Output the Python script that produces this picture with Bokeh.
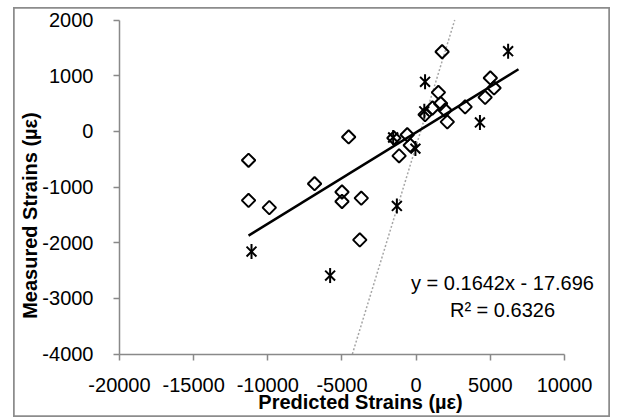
import math
from bokeh.plotting import figure
from bokeh.models import Range1d, FixedTicker, Label, ColumnDataSource, LinearAxis
from bokeh.embed import file_html
from bokeh.resources import INLINE

# ---- data ----
diamond_x = [-11300, -11300, -9900, -6850, -4550, -5000, -5000, -3700, -3800,
             -1500, -1150, -600, -400, 600, 1100, 1500, 1650, 1950, 2100,
             1750, 3300, 4650, 5000, 5250]
diamond_y = [-520, -1240, -1370, -940, -100, -1090, -1260, -1200, -1950,
             -120, -440, -60, -250, 300, 420, 700, 500, 380, 170,
             1430, 440, 610, 960, 780]

star_x = [-11100, -5800, -1300, -1550, -50, 600, 550, 4300, 6200]
star_y = [-2160, -2590, -1340, -110, -310, 890, 360, 160, 1440]

# linear trendline (as printed on the chart)
trend_slope = 0.1642
trend_intercept = -17.696
trend_r2 = 0.6326
trend_x = [-11300, 6900]
trend_y = [trend_slope * v + trend_intercept for v in trend_x]

# dotted reference line
ref_x = [-4300, 2600]
ref_y = [-4000, 2000]

x_ticks = [-20000, -15000, -10000, -5000, 0, 5000, 10000]
y_ticks = [-4000, -3000, -2000, -1000, 0, 1000, 2000]

x_title = "Predicted Strains (\u00b5\u03b5)"
y_title = "Measured Strains (\u00b5\u03b5)"
eq_text = "y = %.4fx - %.3f" % (trend_slope, -trend_intercept)
r2_text = "R\u00b2 = %.4f" % trend_r2

FONT = "Liberation Sans"
AXIS_COLOR = "#898989"

# the frame covers the whole canvas; axes sit at fixed data locations
p = figure(width=597, height=410, output_backend="svg", toolbar_location=None,
           x_range=Range1d(-27146, 13102), y_range=Range1d(-5140, 2225),
           x_axis_location=None, y_axis_location=None,
           min_border_left=0, min_border_right=0,
           min_border_top=0, min_border_bottom=0,
           margin=(7, 0, 0, 13))
p.outline_line_color = "#8c8c8c"
p.outline_line_width = 2.5
p.xgrid.visible = False
p.ygrid.visible = False
p.background_fill_color = "white"
p.border_fill_color = "white"

xaxis = LinearAxis(fixed_location=y_ticks[0], bounds=(x_ticks[0], x_ticks[-1]))
yaxis = LinearAxis(fixed_location=x_ticks[0], bounds=(y_ticks[0], y_ticks[-1]))
p.add_layout(xaxis, "below")
p.add_layout(yaxis, "left")

for ax, ticks in ((xaxis, x_ticks), (yaxis, y_ticks)):
    ax.ticker = FixedTicker(ticks=ticks)
    ax.major_label_overrides = {t: str(t) for t in ticks}
    ax.minor_tick_line_color = None
    ax.axis_line_color = AXIS_COLOR
    ax.axis_line_width = 1.5
    ax.major_tick_line_color = AXIS_COLOR
    ax.major_tick_line_width = 1.5
    ax.major_tick_out = 6
    ax.major_tick_in = 0
    ax.major_label_text_font = FONT
    ax.major_label_text_font_size = "20px"
    ax.major_label_text_color = "#000000"
xaxis.major_label_standoff = 18
yaxis.major_label_standoff = 20

# reference dotted line
p.line(ref_x, ref_y, line_color="#a6a6a6", line_width=1.5, line_dash="2 2")

# trendline
p.line(trend_x, trend_y, line_color="black", line_width=2.5)

# diamonds
dsrc = ColumnDataSource(dict(x=diamond_x, y=diamond_y))
p.scatter("x", "y", source=dsrc, marker="square", size=9.5, angle=math.pi / 4,
          fill_color=None, line_color="black", line_width=2)

# star markers (x with vertical bar)
ssrc = ColumnDataSource(dict(x=star_x, y=star_y))
p.scatter("x", "y", source=ssrc, marker="x", size=14, line_color="black", line_width=2)
p.scatter("x", "y", source=ssrc, marker="dash", size=15, angle=math.pi / 2,
          line_color="black", line_width=2)

# regression text
p.add_layout(Label(x=5820, y=-2730, text=eq_text, text_font=FONT, text_font_size="20px",
                   text_align="center", text_baseline="middle", text_color="black"))
p.add_layout(Label(x=5820, y=-3215, text=r2_text, text_font=FONT, text_font_size="20px",
                   text_align="center", text_baseline="middle", text_color="black"))

# axis titles
p.add_layout(Label(x=-3750, y=-4853, text=x_title, text_font=FONT, text_font_size="20px",
                   text_font_style="bold", text_align="center", text_baseline="middle",
                   text_color="black"))
p.add_layout(Label(x=-26000, y=-1512, text=y_title, text_font=FONT, text_font_size="20px",
                   text_font_style="bold", text_align="center", text_baseline="alphabetic",
                   angle=math.pi / 2, text_color="black"))

open("out.html", "w").write(file_html(p, INLINE))
